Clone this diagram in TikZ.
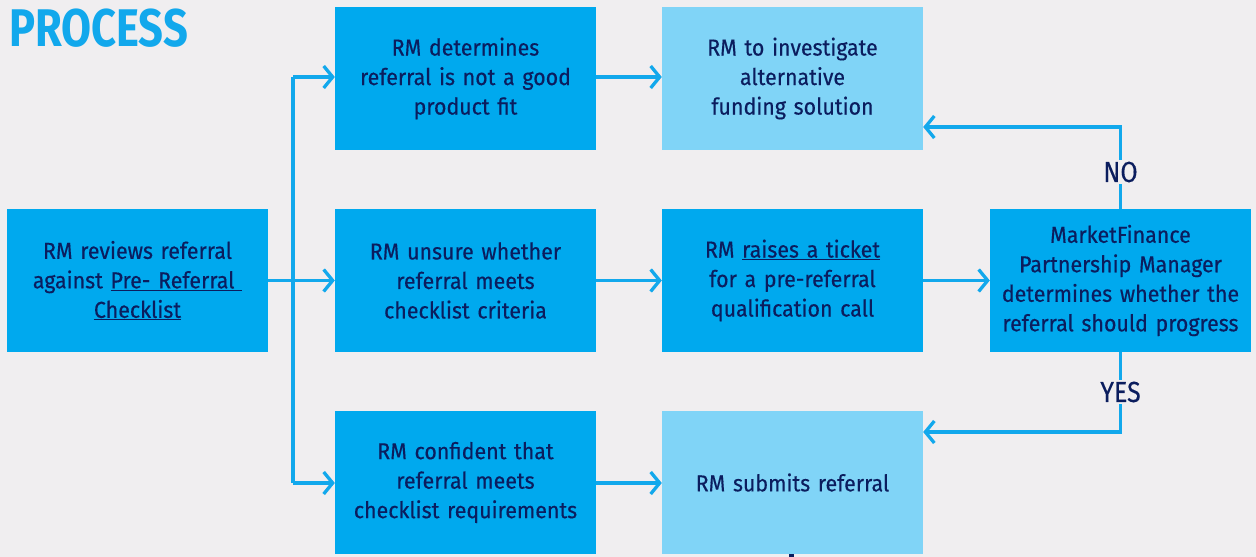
\documentclass[tikz,border=0pt]{standalone}
\usepackage{fontspec}
\setmainfont[FakeStretch=0.93, FakeBold=0.35]{Fira Sans}
\newfontfamily\headfont[FakeStretch=0.82]{Fira Sans}
\newfontfamily\labelfont[FakeStretch=0.86, FakeBold=0.35]{Fira Sans}
\usetikzlibrary{arrows.meta}
\definecolor{pagebg}{HTML}{F0EEF0}
\definecolor{boxblue}{HTML}{00A9EE}
\definecolor{boxlight}{HTML}{80D4F7}
\definecolor{ink}{HTML}{0B1D5E}
\definecolor{flow}{HTML}{12A8EC}
\newcommand\ulx[1]{\underline{#1}}
\tikzset{
  stepbox/.style={fill=boxblue, draw=none, minimum width=261pt, minimum height=143pt,
    text width=258pt, align=center, text=ink, inner sep=0pt,
    font=\fontsize{23}{29.5}\selectfont},
  lightbox/.style={stepbox, fill=boxlight},
  flowline/.style={draw=flow, line width=3.3pt},
  flowarrow/.style={flowline, -{Straight Barb[length=9pt, width=22pt, line width=3.3pt]}},
  choice/.style={fill=pagebg, text=ink, inner sep=2pt, font=\labelfont\fontsize{29}{32}\selectfont},
}
\begin{document}
\begin{tikzpicture}[x=1pt, y=-1pt]
  \fill[pagebg] (0,0) rectangle (1256,557);
  \useasboundingbox (0,0) rectangle (1256,557);

  \node[anchor=north west, text=flow, inner sep=0pt,
    font=\headfont\fontsize{53}{56}\bfseries\selectfont] (title) at (9,9) {PROCESS};

  % boxes
  \node[stepbox] (review) at (137.5,280.5) {RM reviews referral\\ against \ulx{Pre- Referral\ }\\\ulx{Checklist}};
  \node[stepbox] (notfit) at (465.5,78.5) {RM determines\\ referral is not a good\\ product fit};
  \node[stepbox] (unsure) at (465.5,280.5) {RM unsure whether\\ referral meets\\ checklist criteria};
  \node[stepbox] (confident) at (465.5,482.5) {RM confident that\\ referral meets\\ checklist requirements};
  \node[lightbox] (alt) at (792.5,78.5) {RM to investigate\\ alternative\\ funding solution};
  \node[stepbox] (ticket) at (792.5,280.5) {RM \ulx{raises a ticket}\\ for a pre-referral\\ qualification call};
  \node[lightbox] (submit) at (792.5,482.5) {RM submits referral};
  \node[stepbox] (pm) at (1120.5,280.5) {MarketFinance\\ Partnership Manager\\ determines whether the\\ referral should progress};

  % branching from the review step
  \coordinate (split) at (293,280.5);
  \coordinate (up) at (293,77);
  \coordinate (down) at (293,483);
  \draw[flowline] (up) -- (down);
  \draw[flowline] (review.east) -- (split);
  \draw[flowarrow] (split) -- (unsure.west);
  \draw[flowarrow] (up) -- (notfit.west |- up);
  \draw[flowarrow] (down) -- (confident.west |- down);

  % second column to third
  \draw[flowarrow] (notfit.east |- up) -- (alt.west |- up);
  \draw[flowarrow] (unsure.east) -- (ticket.west);
  \draw[flowarrow] (confident.east |- down) -- (submit.west |- down);
  \draw[flowarrow] (ticket.east) -- (pm.west);

  % decision outcomes
  \coordinate (nocorner) at (1120.5,127);
  \coordinate (yescorner) at (1120.5,432);
  \draw[flowarrow] (pm.north) -- (nocorner) -- (alt.east |- nocorner);
  \draw[flowarrow] (pm.south) -- (yescorner) -- (submit.east |- yescorner);
  \node[choice] (no) at (1120.5,172) {NO};
  \node[choice] (yes) at (1120.5,392) {YES};

  \fill[ink] (789,554) rectangle (794,557);
\end{tikzpicture}
\end{document}
